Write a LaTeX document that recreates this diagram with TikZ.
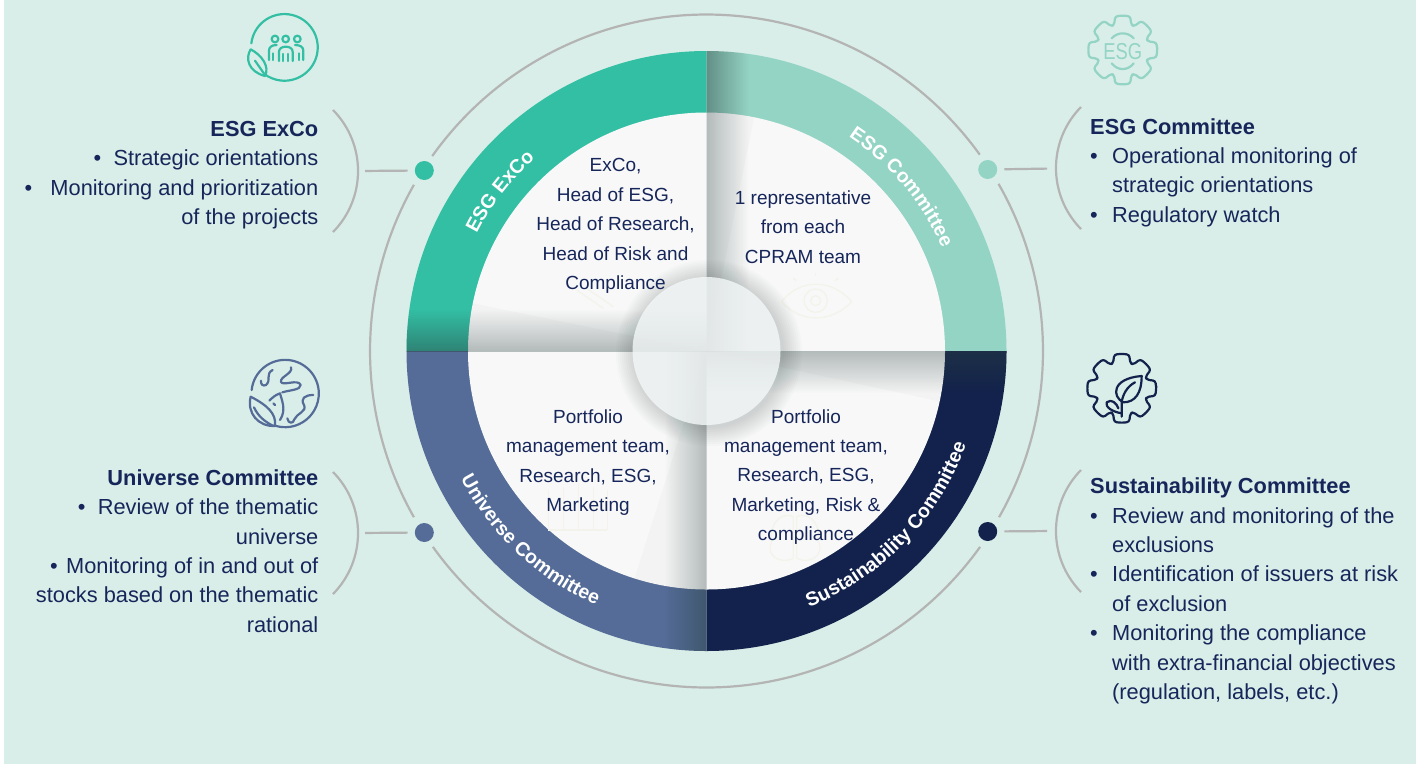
\documentclass[tikz,border=0pt]{standalone}
\usepackage{fontspec}
\setmainfont{Liberation Sans}
\usetikzlibrary{positioning,fadings,decorations.text}
\definecolor{bgmint}{HTML}{D9EEE8}
\definecolor{excoteal}{HTML}{33BFA4}
\definecolor{committeemint}{HTML}{94D4C4}
\definecolor{universeblue}{HTML}{546C97}
\definecolor{sustainnavy}{HTML}{12224C}
\definecolor{textnavy}{HTML}{16265A}
\definecolor{linegrey}{HTML}{B4B4B4}
\definecolor{discwhite}{HTML}{F8F8F8}
\definecolor{markcream}{HTML}{F3F3EB}
\definecolor{shadowgrey}{HTML}{2A4040}
\definecolor{hubtint}{HTML}{F4F8F8}
\newcommand{\sidefont}{\fontsize{21.8}{29.35}\selectfont}
\newcommand{\discfont}{\fontsize{19}{29.35}\selectfont}
\newcommand{\ringfont}{\fontsize{19.5}{20}\selectfont\bfseries}
\newcommand{\bul}[1]{\makebox[#1pt][l]{•}}
\newcommand{\ind}{\hspace*{22pt}}
\tikzfading[name=fadeup,top color=transparent!100,bottom color=transparent!0]
\tikzfading[name=fadedown,top color=transparent!0,bottom color=transparent!100]
\tikzfading[name=fadeleft,left color=transparent!100,right color=transparent!0]
\tikzfading[name=faderight,left color=transparent!0,right color=transparent!100]
\tikzset{
        greyline/.style={draw=linegrey,line width=2.2pt},
        dotnode/.style={circle,fill=#1,minimum size=19pt,inner sep=0pt},
        sidetext/.style={inner sep=0pt,font=\sidefont,text=textnavy},
        disctext/.style={inner sep=0pt,align=center,font=\discfont,text=textnavy},
        ringlabel/.style={decorate,decoration={text along path,text={|\ringfont\color{white}|#1},text align=center}},
        iconline/.style={draw=#1,line width=2.2pt,line cap=round,line join=round},
        zoomgrid/.style={x=.3333pt,y=-.3333pt},
        faintline/.style={draw=markcream,line width=1.3pt}
}
\newcommand{\gearpath}{(0:34.5) \foreach \a in {0,45,...,315} {-- (\a+12.5:34.5) -- (\a+19:26.5) -- (\a+26:26.5) -- (\a+32.5:34.5) -- (\a+45:34.5)} -- cycle}
\begin{document}
\begin{tikzpicture}[x=1pt,y=-1pt]
        \useasboundingbox (0,0) rectangle (1416,764);
        \fill[bgmint] (4,0) rectangle (1415.5,764);

        \begin{scope}[shift={(706.5,351)}]
                \fill[excoteal] (0,0) -- (180:300) arc (180:270:300) -- cycle;
                \fill[committeemint] (0,0) -- (270:300) arc (270:360:300) -- cycle;
                \fill[sustainnavy] (0,0) -- (0:300) arc (0:90:300) -- cycle;
                \fill[universeblue] (0,0) -- (90:300) arc (90:180:300) -- cycle;
                \fill[discwhite] (0,0) circle (238.5);
                \clip (0,0) circle (238.5);
                \fill[black,opacity=.02] (0,0) -- (-240,-49) -- (-240,0) -- cycle;
                \fill[black,opacity=.02] (0,0) -- (49,-240) -- (0,-240) -- cycle;
                \fill[black,opacity=.02] (0,0) -- (240,52) -- (240,0) -- cycle;
                \fill[black,opacity=.02] (0,0) -- (-76,240) -- (0,240) -- cycle;
        \end{scope}

        \begin{scope}[shift={(700,40)},zoomgrid]
                \draw[faintline] (245,785) .. controls (300,715) and (395,715) .. (455,785) .. controls (395,850) and (300,850) .. (245,785);
                \draw[faintline] (347,782) circle (35);
                \draw[faintline] (347,782) circle (15);
                \draw[faintline] (347,698) -- (347,708);
                \draw[faintline] (280,714) -- (289,722);
                \draw[faintline] (415,714) -- (406,722);
        \end{scope}
        \begin{scope}[shift={(700,345)},zoomgrid]
                \draw[faintline] (280,515) .. controls (230,495) and (205,560) .. (215,590) .. controls (195,630) and (240,660) .. (280,640) -- (280,515);
                \draw[faintline] (290,515) .. controls (340,495) and (365,560) .. (355,590) .. controls (375,630) and (330,660) .. (290,640) -- (290,515);
        \end{scope}
        \begin{scope}[shift={(400,345)},zoomgrid]
                \draw[faintline] (445,555) -- (445,435) (490,555) -- (490,425) (535,555) -- (535,415) (580,555) -- (580,425) (622,555) -- (622,435) (445,555) -- (622,555);
        \end{scope}
        \begin{scope}[shift={(400,40)},zoomgrid]
                \draw[faintline] (530,750) -- (610,805) (560,745) -- (640,800);
        \end{scope}

        \foreach \xa/\ya/\xb/\yb/\sxa/\sya/\sxb/\syb/\fadname in {
                406/51/706.5/351/400/309/710/365/fadeup,
                706.5/51/1007/351/692.5/45/748.5/355/faderight,
                706.5/351/1007/651/700/337/1010/393/fadedown,
                406/351/706.5/651/664.5/345/720.5/655/fadeleft} {
                \begin{scope}
                        \clip (\xa,\ya) rectangle (\xb,\yb);
                        \begin{scope}[even odd rule]
                                \clip (706.5,351) circle (300) (706.5,351) circle (238.5);
                                \fill[shadowgrey,opacity=.62,path fading=\fadname] (\sxa,\sya) rectangle (\sxb,\syb);
                        \end{scope}
                        \begin{scope}
                                \clip (706.5,351) circle (238.5);
                                \fill[shadowgrey,opacity=.42,path fading=\fadname] (\sxa,\sya) rectangle (\sxb,\syb);
                        \end{scope}
                \end{scope}
        }

        \foreach \r in {75,77,...,93} {
                \fill[shadowgrey,opacity=.02] (709,353) circle (\r);
        }
        \fill[hubtint,opacity=.8] (706.5,351) circle (74);

        \begin{scope}[shift={(706.5,351)}]
                \path[ringlabel={ESG ExCo}] (202.7:258) arc (202.7:232.7:258);
                \path[ringlabel={ESG Committee}] (-70:257) arc (-70:-10:257);
                \path[ringlabel={Universe Committee}] (165:277) arc (165:101:277);
                \path[ringlabel={Sustainability Committee}] (79:276) arc (79:9:276);
                \draw[greyline] (215.4:336.5) arc (215.4:324.3:336.5);
                \draw[greyline] (330.2:336.5) arc (330.2:389.6:336.5);
                \draw[greyline] (35.6:336.5) arc (35.6:144.4:336.5);
                \draw[greyline] (150.4:336.5) arc (150.4:209.6:336.5);
        \end{scope}

        \node[disctext] (discExCo) at (615.5,226) {ExCo,\\Head of ESG,\\Head of Research,\\Head of Risk and\\Compliance};
        \node[disctext] (discCommittee) at (803,227) {1 representative\\from each\\CPRAM team};
        \node[disctext] (discUniverse) at (588,462.5) {Portfolio\\management team,\\Research, ESG,\\Marketing};
        \node[disctext] (discSustain) at (806,477) {Portfolio\\management team,\\Research, ESG,\\Marketing, Risk \&\\compliance};

        \node[dotnode=excoteal] (dotExCo) at (424.3,170.5) {};
        \node[dotnode=committeemint] (dotCommittee) at (987.7,169.5) {};
        \node[dotnode=universeblue] (dotUniverse) at (424.3,532.5) {};
        \node[dotnode=sustainnavy] (dotSustain) at (987.7,531.5) {};

        \coordinate (brExCo) at (358,171);
        \coordinate (brCommittee) at (1054,168.5);
        \coordinate (brUniverse) at (358,533);
        \coordinate (brSustain) at (1054,531);

        \draw[greyline] (333,110) arc (-44.6:44.6:86.9);
        \draw[greyline] (1081,107) arc (224.6:135.4:86.9);
        \draw[greyline] (333,472) arc (-44.6:44.6:86.9);
        \draw[greyline] (1081,470) arc (224.6:135.4:86.9);
        \draw[greyline,shorten <=7pt,shorten >=7pt] (dotExCo) -- (brExCo);
        \draw[greyline,shorten <=7pt,shorten >=7pt] (dotCommittee) -- (brCommittee);
        \draw[greyline,shorten <=7pt,shorten >=7pt] (dotUniverse) -- (brUniverse);
        \draw[greyline,shorten <=7pt,shorten >=7pt] (dotSustain) -- (brSustain);

        \node[sidetext,align=right,left=39.5pt of brExCo,yshift=-4pt] (txtExCo) {{\bfseries ESG ExCo}\\\bul{20}Strategic orientations\\\bul{26}Monitoring and prioritization\\of the projects};
        \node[sidetext,align=left,right=36pt of brCommittee,yshift=-4pt] (txtCommittee) {{\bfseries ESG Committee}\\\bul{22}Operational monitoring of\\\ind strategic orientations\\\bul{22}Regulatory watch};
        \node[sidetext,align=right,left=39.5pt of brUniverse,yshift=-18pt] (txtUniverse) {{\bfseries Universe Committee}\\\bul{20}Review of the thematic\\universe\\\bul{16}Monitoring of in and out of\\stocks based on the thematic\\rational};
        \node[sidetext,align=left,right=36pt of brSustain,yshift=-60pt] (txtSustain) {{\bfseries Sustainability Committee}\\\bul{22}Review and monitoring of the\\\ind exclusions\\\bul{22}Identification of issuers at risk\\\ind of exclusion\\\bul{22}Monitoring the compliance\\\ind with extra-financial objectives\\\ind (regulation, labels, etc.)};

        \begin{scope}[shift={(220,0)},zoomgrid]
                \draw[iconline=excoteal] (94,130) arc (187:487:100);
                \draw[iconline=excoteal] (92,148) .. controls (75,175) and (85,215) .. (135,228) .. controls (150,200) and (125,165) .. (92,148);
                \draw[iconline=excoteal] (105,182) -- (135,225);
                \foreach \hx in {165,197,232} {
                        \draw[iconline=excoteal] (\hx,117) circle (10);
                }
                \draw[iconline=excoteal] (177,183) -- (177,155) .. controls (177,135) and (218,135) .. (218,155) -- (218,183);
                \draw[iconline=excoteal] (190,183) -- (190,162) (205,183) -- (205,162);
                \draw[iconline=excoteal] (147,180) -- (147,152) .. controls (147,142) and (155,135) .. (170,135);
                \draw[iconline=excoteal] (158,180) -- (158,160);
                \draw[iconline=excoteal] (250,180) -- (250,152) .. controls (250,142) and (242,135) .. (225,135);
                \draw[iconline=excoteal] (238,180) -- (238,160);
        \end{scope}

        \begin{scope}[shift={(1122.7,50)}]
                \draw[iconline=committeemint,rounded corners=2.5pt] \gearpath;
                \node[text=committeemint,font=\fontsize{23}{23}\selectfont,inner sep=0pt] (iconEsg) at (0,1.5) {\scalebox{.8}[1]{ESG}};
                \draw[iconline=committeemint] (-11,-11.7) .. controls (-5,-18.3) and (5,-18.3) .. (11,-11.7);
                \draw[iconline=committeemint] (-11,13.3) .. controls (-5,21) and (5,21) .. (11,13.3);
        \end{scope}

        \begin{scope}[shift={(230,350)},zoomgrid]
                \draw[iconline=universeblue] (65,120) arc (186:469:101);
                \draw[iconline=universeblue] (62,140) .. controls (50,190) and (85,230) .. (135,228) .. controls (140,190) and (110,165) .. (62,140);
                \draw[iconline=universeblue] (72,172) .. controls (85,200) and (105,215) .. (130,228);
                \draw[iconline=universeblue] (128,60) .. controls (105,72) and (125,90) .. (108,105) .. controls (98,110) and (92,102) .. (93,92);
                \draw[iconline=universeblue] (183,52) .. controls (190,70) and (150,80) .. (153,95) .. controls (155,110) and (205,85) .. (212,105) .. controls (212,120) and (180,120) .. (157,127);
                \draw[iconline=universeblue] (118,152) .. controls (125,145) and (135,135) .. (150,130) .. controls (155,150) and (170,180) .. (150,210);
                \draw[iconline=universeblue] (130,160) -- (135,165);
                \draw[iconline=universeblue] (250,135) .. controls (225,135) and (210,145) .. (222,165) .. controls (232,185) and (200,190) .. (193,208) .. controls (190,222) and (175,222) .. (172,205);
        \end{scope}

        \begin{scope}[shift={(1121.7,388.3)}]
                \draw[iconline=sustainnavy,rounded corners=2.5pt] \gearpath;
        \end{scope}
        \begin{scope}[shift={(1070,345)},zoomgrid]
                \draw[iconline=sustainnavy] (160,172) .. controls (125,155) and (125,100) .. (215,93) .. controls (215,145) and (195,172) .. (160,172);
                \draw[iconline=sustainnavy] (155,215) -- (155,172) .. controls (158,150) and (170,125) .. (195,112);
                \draw[iconline=sustainnavy] (155,205) .. controls (125,200) and (105,185) .. (110,172) .. controls (125,160) and (140,175) .. (145,190);
        \end{scope}
\end{tikzpicture}
\end{document}
